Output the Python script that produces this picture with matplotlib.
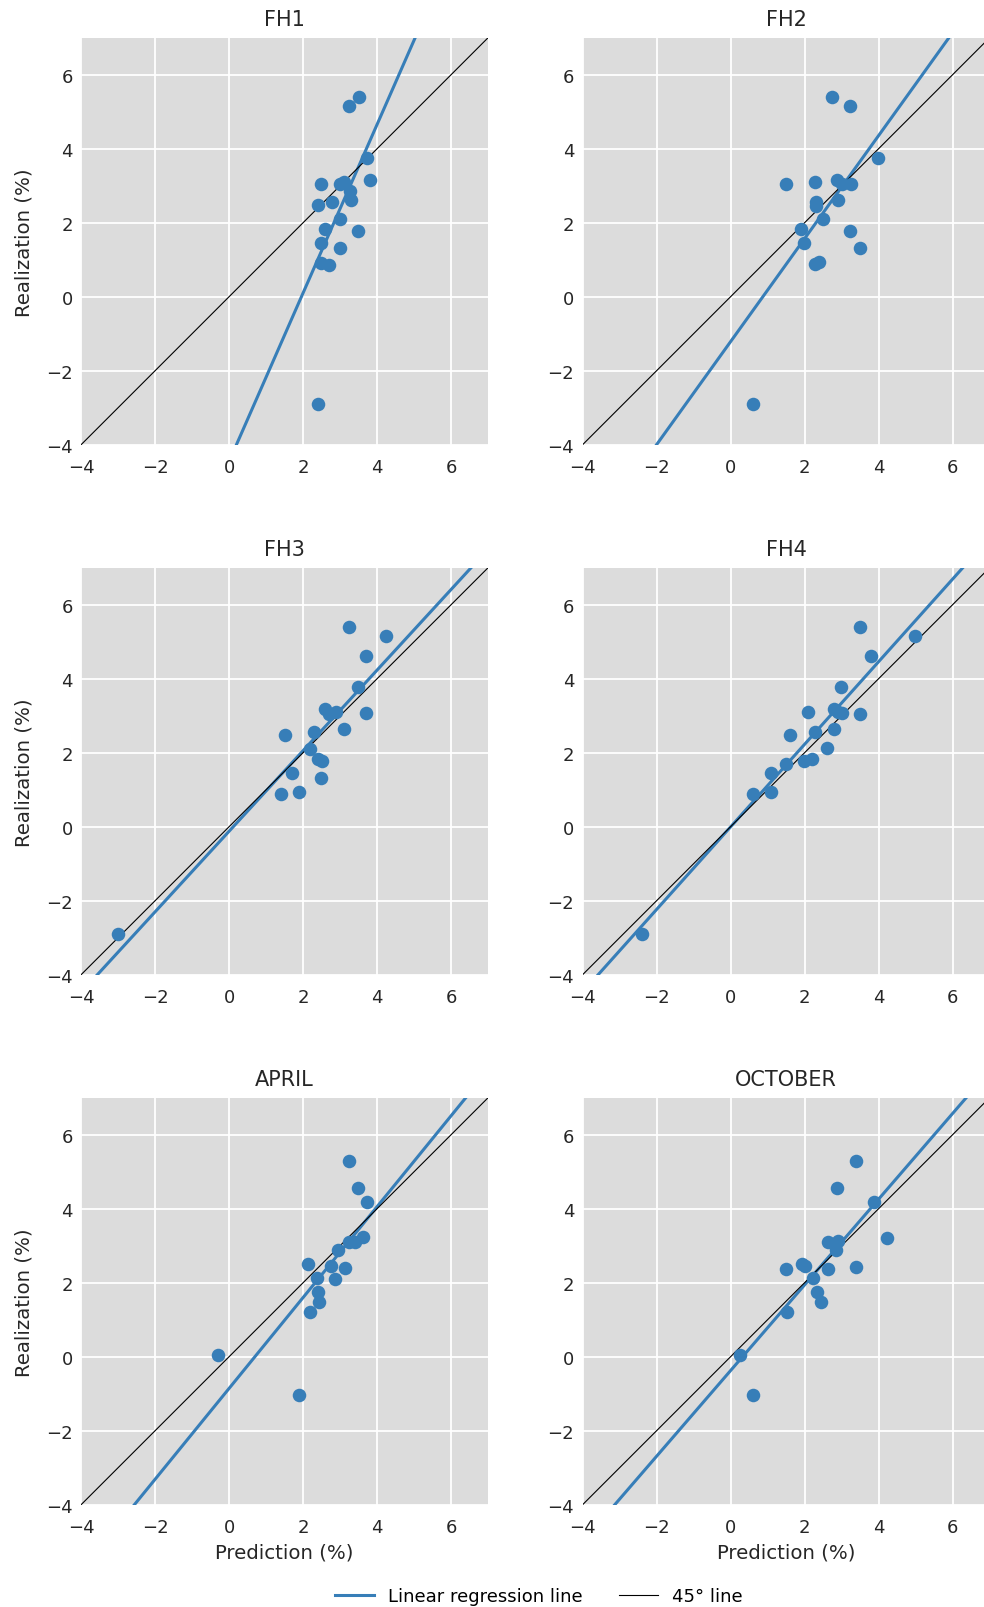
import numpy as np
import matplotlib
matplotlib.use("Agg")
import matplotlib.pyplot as plt

plt.rcParams['font.family'] = ['DejaVu Sans']

titles = ["FH1", "FH2", "FH3", "FH4", "APRIL", "OCTOBER"]

# predictions (x) and realizations (y) per panel
fh1_x = [3.50, 3.24, 3.74, 3.80, 2.49, 2.99, 3.11, 3.26, 3.30, 2.40, 2.79, 2.99, 2.59, 3.49, 2.49, 2.99, 2.49, 2.71, 2.40]
fh1_y = [5.39, 5.15, 3.75, 3.17, 3.06, 3.05, 3.11, 2.85, 2.62, 2.47, 2.55, 2.11, 1.82, 1.78, 1.46, 1.31, 0.92, 0.87, -2.90]

fh2_x = [2.74, 3.24, 3.99, 1.49, 2.29, 2.89, 3.00, 3.26, 2.30, 2.30, 2.90, 2.50, 1.90, 3.24, 1.99, 3.49, 2.28, 2.40, 0.60]
fh2_y = [5.39, 5.15, 3.75, 3.04, 3.10, 3.17, 3.06, 3.04, 2.56, 2.45, 2.61, 2.11, 1.82, 1.78, 1.46, 1.31, 0.88, 0.93, -2.90]

fh3_x = [3.24, 4.24, 3.70, 3.49, 2.59, 2.71, 2.90, 3.70, 1.50, 2.30, 3.10, 2.20, 2.40, 2.51, 1.70, 2.49, 1.41, 1.90, -2.99]
fh3_y = [5.40, 5.16, 4.62, 3.77, 3.19, 3.06, 3.11, 3.07, 2.48, 2.57, 2.63, 2.11, 1.82, 1.78, 1.46, 1.32, 0.89, 0.95, -2.90]

fh4_x = [3.49, 4.99, 3.79, 2.99, 2.09, 2.79, 2.91, 3.01, 3.49, 1.60, 2.29, 2.79, 2.60, 1.99, 2.20, 1.49, 1.09, 0.60, 1.09, -2.40]
fh4_y = [5.40, 5.16, 4.62, 3.77, 3.11, 3.19, 3.10, 3.07, 3.05, 2.48, 2.57, 2.63, 2.12, 1.79, 1.84, 1.69, 1.46, 0.89, 0.95, -2.89]

apr_x = [3.23, 3.49, 3.72, 3.23, 3.41, 3.63, 2.95, 2.14, 2.75, 3.14, 2.39, 2.86, 2.40, 2.44, 2.19, -0.30, 1.89]
apr_y = [5.28, 4.57, 4.18, 3.10, 3.09, 3.23, 2.90, 2.51, 2.45, 2.41, 2.14, 2.09, 1.76, 1.49, 1.20, 0.04, -1.02]

oct_x = [3.38, 2.87, 3.89, 4.23, 2.64, 2.90, 2.84, 1.49, 1.92, 2.01, 2.64, 3.38, 2.24, 2.34, 2.44, 1.54, 0.26, 0.60]
oct_y = [5.28, 4.57, 4.18, 3.22, 3.09, 3.12, 2.90, 2.36, 2.51, 2.46, 2.38, 2.42, 2.14, 1.76, 1.49, 1.20, 0.04, -1.02]

# regression line (slope, intercept) per panel
slopes = [2.277, 1.392, 1.089, 1.116, 1.228, 1.158]
intercepts = [-4.455, -1.215, -0.123, -0.005, -0.857, -0.375]

xs = [fh1_x, fh2_x, fh3_x, fh4_x, apr_x, oct_x]
ys = [fh1_y, fh2_y, fh3_y, fh4_y, apr_y, oct_y]

blue = '#377eb8'
W, H = 984, 1608
size = 407
lefts = [81, 582.5]
tops = [38.8, 568.8, 1098.8]

fig = plt.figure(figsize=(W / 100, H / 100), dpi=100)

for i in range(6):
    r, c = divmod(i, 2)
    ax = fig.add_axes([lefts[c] / W, 1 - (tops[r] + size) / H, size / W, size / H])
    ax.set_facecolor('#dcdcdc')
    for s in ax.spines.values():
        s.set_visible(False)
    ax.grid(True, color='white', lw=1.3)
    ax.set_axisbelow(True)
    ax.tick_params(length=0, labelsize=13, labelcolor='#262626')
    ax.tick_params(axis='x', pad=9.5)
    ax.tick_params(axis='y', pad=6)
    ax.set_xlim(-4, 7)
    ax.set_ylim(-4, 7)
    ax.set_xticks([-4, -2, 0, 2, 4, 6])
    ax.set_yticks([-4, -2, 0, 2, 4, 6])

    line_x = np.array([-5, 8])
    ax.plot(line_x, slopes[i] * line_x + intercepts[i], color=blue, lw=2.2,
            label='Linear regression line', zorder=2)
    ax.plot(line_x, line_x, color='black', lw=0.8, label='45° line', zorder=2)
    ax.scatter(xs[i], ys[i], s=95, color=blue, linewidths=0, zorder=3)

    ax.set_title(titles[i], fontsize=15, color='#262626', pad=9)
    if c == 0:
        ax.set_ylabel('Realization (%)', fontsize=14.2, color='#262626', labelpad=9)
    if r == 2:
        ax.set_xlabel('Prediction (%)', fontsize=14.2, color='#262626', labelpad=5)

handles, labels = ax.get_legend_handles_labels()
fig.legend(handles, labels, loc='center', bbox_to_anchor=(539 / W, 1 - 1597 / H),
           ncol=2, frameon=False, fontsize=13, handlelength=2.15,
           handletextpad=0.8, columnspacing=2.0)

fig.savefig('out.png', dpi=100)
